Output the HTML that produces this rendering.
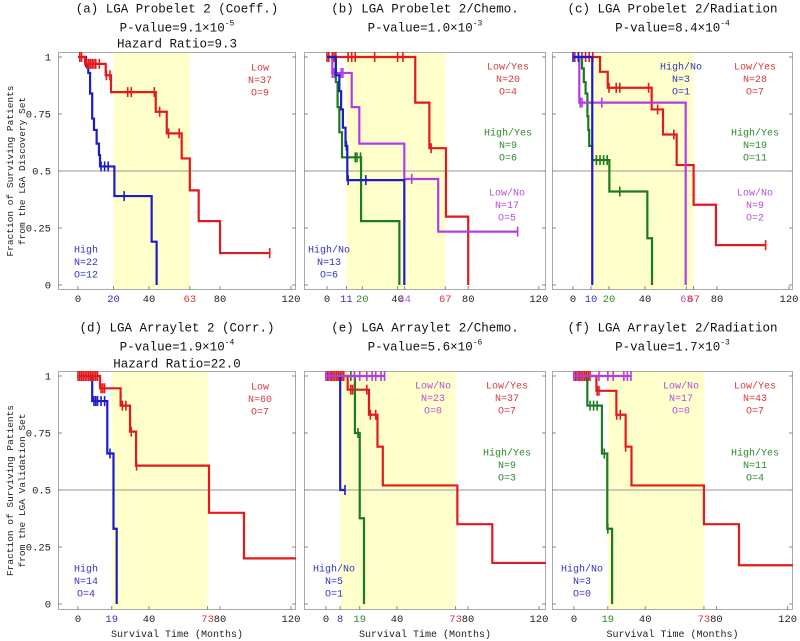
<!DOCTYPE html>
<html><head><meta charset="utf-8">
<style>
html,body{margin:0;padding:0;background:#fff;}
svg{display:block;font-family:"Liberation Mono","DejaVu Sans Mono",monospace;}
</style></head>
<body>
<svg id="chart" width="800" height="641" viewBox="0 0 800 641" xmlns="http://www.w3.org/2000/svg"></svg>
<script>
// ---------- data (months, survival fraction, censor times) ----------
// Panel a
const a_low_t=[4,15.6,18.6,43.8,50,58.4,63,68,80];
const a_low_s=[0.97,0.92,0.846,0.76,0.665,0.555,0.415,0.28,0.14];
const a_low_c=[1,2,5,6,7,8,9,10,12,16,18,28,30,43,46,51,57,108];
const a_high_t=[4.5,5.8,6.8,8,9,10.5,11.8,12.4,20.5,41.5,44.3];
const a_high_s=[0.96,0.93,0.84,0.73,0.68,0.62,0.57,0.52,0.39,0.19,0];
const a_high_c=[13,15,17,26];
// Panel b
const b_lowyes_t=[50,58,67.4,80];
const b_lowyes_s=[0.80,0.60,0.30,0];
const b_lowyes_c=[0,1,3,4,5,12,14,16,27,40,43,59];
const b_lowno_t=[3,14,18.3,43.8,63];
const b_lowno_s=[0.93,0.78,0.62,0.465,0.234];
const b_lowno_c=[3,4,8,9,48,108];
const b_highyes_t=[5,6,7,8.5,19.3,41];
const b_highyes_s=[0.89,0.78,0.67,0.56,0.28,0];
const b_highyes_c=[16,17,19];
const b_highno_t=[5,7,8,9,10.5,11.5,43.8];
const b_highno_s=[0.92,0.85,0.77,0.69,0.61,0.46,0];
const b_highno_c=[11,12,22];
// Panel c
const c_lowyes_t=[15,19.3,43.7,50,57.6,67,79.4];
const c_lowyes_s=[0.935,0.865,0.77,0.66,0.526,0.352,0.175];
const c_lowyes_c=[1,3,5,7,9,11,20,24,26,42,47,56,107];
const c_lowno_t=[3.5,62.6];
const c_lowno_s=[0.80,0];
const c_lowno_c=[4,5,16];
const c_highno_t=[10.7];
const c_highno_s=[0];
const c_highno_c=[0,3];
const c_highyes_t=[5,6,7,8,8.5,9,10.7,20.2,41.3,43.9];
const c_highyes_s=[0.95,0.89,0.84,0.74,0.68,0.61,0.548,0.41,0.205,0];
const c_highyes_c=[13,15,17,19,26];
// Panel d
const d_low_t=[12.4,24,29.3,32.7,73.8,93.5];
const d_low_s=[0.946,0.87,0.756,0.607,0.40,0.20];
const d_low_c=[0,1,2,3,4,5,6,7,8,9,10,11,13,14,15,25,27,30,33];
const d_high_t=[8,16.5,20,21.8];
const d_high_s=[0.89,0.66,0.33,0];
const d_high_c=[9,10,11,13,15,18];
// Panel e
const e_lowyes_t=[12.2,24.2,29,32,74,93.7];
const e_lowyes_s=[0.94,0.83,0.69,0.52,0.35,0.18];
const e_lowyes_c=[0,1,2,3,4,5,6,7,8,9,10,14,15,23,25,28];
const e_lowno_t=[];
const e_lowno_s=[];
const e_lowno_c=[0,2,16,19,23,26,28,31,33];
const e_highno_t=[8];
const e_highno_s=[0.5];
const e_highno_c=[10.7];
const e_highyes_t=[16.3,19,21.4];
const e_highyes_s=[0.75,0.376,0];
const e_highyes_c=[14,18];
// Panel f
const f_lowyes_t=[12.6,23.8,29,32.3,73,92.7];
const f_lowyes_s=[0.935,0.83,0.69,0.52,0.35,0.17];
const f_lowyes_c=[0,1,2,3,4,5,6,7,8,9,13,14,24,26,29];
const f_lowno_t=[];
const f_lowno_s=[];
const f_lowno_c=[0,2,14,19,22,28,30,32];
const f_highyes_t=[7.5,15.7,18.7,21.4];
const f_highyes_s=[0.87,0.66,0.33,0];
const f_highyes_c=[9,11,13,17,19];

const yTicks=[0,0.25,0.5,0.75,1];
const yTickLabels=["0","0.25","0.5","0.75","1"];

const RED="#e31a1c",BLUE="#1c1cc8",GREEN="#1f7a1f",PURPLE="#b43ce6";
const TRED="#d23c3c",TBLUE="#3434c0",TGREEN="#2e8a2e",TPURPLE="#b450dc";

const NS="http://www.w3.org/2000/svg";
const svg=document.getElementById('chart');
function mk(tag,attrs,parent){const e=document.createElementNS(NS,tag);for(const k in attrs)e.setAttribute(k,attrs[k]);(parent||svg).appendChild(e);return e;}

const panels=[
 {id:'a',fx:58,fw:238,fy:52,fh:238,x0:78,k:1.775,y0:285,y1:57,hl:[20,63],
  title:["(a) LGA Probelet 2 (Coeff.)","P-value=9.1×10","Hazard Ratio=9.3"],exp:"-5",ty:[8,27,43],
  xt:[[0,"#222"],[20,TBLUE],[40,"#222"],[63,TRED],[80,"#222"],[120,"#222"]],
  series:[{n:'high',t:a_high_t,s:a_high_s,c:a_high_c,col:BLUE},{n:'low',t:a_low_t,s:a_low_s,c:a_low_c,col:RED}],
  labels:[[260,67,"Low","N=37","O=9",TRED],[86,249,"High","N=22","O=12",TBLUE]],ylab:true},
 {id:'b',fx:304,fw:242,fy:52,fh:238,x0:327,k:1.765,y0:285,y1:57,hl:[11,67],
  title:["(b) LGA Probelet 2/Chemo.","P-value=1.0×10"],exp:"-3",ty:[8,27],
  xt:[[0,"#222"],[11,TBLUE],[20,TGREEN],[40,"#222"],[44,TPURPLE],[67,TRED],[80,"#222"],[120,"#222"]],
  series:[{n:'low-yes',t:b_lowyes_t,s:b_lowyes_s,c:b_lowyes_c,col:RED},{n:'low-no',t:b_lowno_t,s:b_lowno_s,c:b_lowno_c,col:PURPLE},{n:'high-yes',t:b_highyes_t,s:b_highyes_s,c:b_highyes_c,col:GREEN},{n:'high-no',t:b_highno_t,s:b_highno_s,c:b_highno_c,col:BLUE}],
  labels:[[508,66,"Low/Yes","N=20","O=4",TRED],[508,132,"High/Yes","N=9","O=6",TGREEN],[507,192,"Low/No","N=17","O=5",TPURPLE],[329,249,"High/No","N=13","O=6",TBLUE]]},
 {id:'c',fx:552,fw:241,fy:52,fh:238,x0:573,k:1.8,y0:285,y1:57,hl:[10,67],
  title:["(c) LGA Probelet 2/Radiation","P-value=8.4×10"],exp:"-4",ty:[8,27],
  xt:[[0,"#222"],[10,TBLUE],[20,TGREEN],[40,"#222"],[63,TPURPLE],[67,TRED],[80,"#222"],[120,"#222"]],
  series:[{n:'low-yes',t:c_lowyes_t,s:c_lowyes_s,c:c_lowyes_c,col:RED},{n:'high-yes',t:c_highyes_t,s:c_highyes_s,c:c_highyes_c,col:GREEN},{n:'low-no',t:c_lowno_t,s:c_lowno_s,c:c_lowno_c,col:PURPLE},{n:'high-no',t:c_highno_t,s:c_highno_s,c:c_highno_c,col:BLUE}],
  labels:[[681,66,"High/No","N=3","O=1",TBLUE],[755,66,"Low/Yes","N=28","O=7",TRED],[755,132,"High/Yes","N=19","O=11",TGREEN],[755,192,"Low/No","N=9","O=2",TPURPLE]]},
 {id:'d',fx:58,fw:238,fy:371,fh:239,x0:78,k:1.775,y0:604,y1:376,hl:[19,73],
  title:["(d) LGA Arraylet 2 (Corr.)","P-value=1.9×10","Hazard Ratio=22.0"],exp:"-4",ty:[327,346,363],
  xt:[[0,"#222"],[19,TBLUE],[40,"#222"],[73,TRED],[80,"#222"],[120,"#222"]],
  series:[{n:'high',t:d_high_t,s:d_high_s,c:d_high_c,col:BLUE},{n:'low',t:d_low_t,s:d_low_s,c:d_low_c,col:RED,end:130}],
  labels:[[260,386,"Low","N=60","O=7",TRED],[86,568,"High","N=14","O=4",TBLUE]],ylab:true,xlab:true},
 {id:'e',fx:304,fw:242,fy:371,fh:239,x0:326,k:1.775,y0:604,y1:376,hl:[8,73],
  title:["(e) LGA Arraylet 2/Chemo.","P-value=5.6×10"],exp:"-6",ty:[327,346],
  xt:[[0,"#222"],[8,TBLUE],[19,TGREEN],[40,"#222"],[73,TRED],[80,"#222"],[120,"#222"]],
  series:[{n:'low-yes',t:e_lowyes_t,s:e_lowyes_s,c:e_lowyes_c,col:RED,end:130},{n:'high-no',t:e_highno_t,s:e_highno_s,c:e_highno_c,col:BLUE},{n:'high-yes',t:e_highyes_t,s:e_highyes_s,c:e_highyes_c,col:GREEN},{n:'low-no',t:e_lowno_t,s:e_lowno_s,c:e_lowno_c,col:PURPLE}],
  labels:[[433,385,"Low/No","N=23","O=0",TPURPLE],[507,385,"Low/Yes","N=37","O=7",TRED],[507,452,"High/Yes","N=9","O=3",TGREEN],[334,568,"High/No","N=5","O=1",TBLUE]],xlab:true},
 {id:'f',fx:552,fw:241,fy:371,fh:239,x0:574,k:1.78,y0:604,y1:376,hl:[19,73],
  title:["(f) LGA Arraylet 2/Radiation","P-value=1.7×10"],exp:"-3",ty:[327,346],
  xt:[[0,"#222"],[19,TGREEN],[40,"#222"],[73,TRED],[80,"#222"],[120,"#222"]],
  series:[{n:'low-yes',t:f_lowyes_t,s:f_lowyes_s,c:f_lowyes_c,col:RED,end:130},{n:'high-yes',t:f_highyes_t,s:f_highyes_s,c:f_highyes_c,col:GREEN},{n:'low-no',t:f_lowno_t,s:f_lowno_s,c:f_lowno_c,col:PURPLE}],
  labels:[[681,385,"Low/No","N=17","O=0",TPURPLE],[755,385,"Low/Yes","N=43","O=7",TRED],[755,452,"High/Yes","N=11","O=4",TGREEN],[582,568,"High/No","N=3","O=0",TBLUE]],xlab:true}
];

panels.forEach(p=>{
  const X=t=>p.x0+t*p.k;
  const Y=s=>p.y0-s*(p.y0-p.y1);
  const g=mk('g',{});
  
  
  const cid='clip'+p.id;
  const cp=mk('clipPath',{id:cid},g);
  mk('rect',{x:p.fx,y:p.fy,width:p.fw,height:p.fh},cp);
  const hl=mk('rect',{x:X(p.hl[0]),y:p.fy,width:X(p.hl[1])-X(p.hl[0]),height:p.fh,fill:'#ffffcc'},g);
  
  
  const ml=mk('line',{x1:p.fx,x2:p.fx+p.fw,y1:Y(0.5),y2:Y(0.5),stroke:'#999','stroke-width':1},g);
  
  
  const fr=mk('rect',{x:p.fx+0.5,y:p.fy+0.5,width:p.fw-1,height:p.fh-1,fill:'none',stroke:'#aaa','stroke-width':1},g);
  
  
  yTicks.forEach((v,i)=>{
    mk('line',{x1:p.fx,x2:p.fx+4,y1:Y(v),y2:Y(v),stroke:'#888','stroke-width':1},g);
    mk('line',{x1:p.fx+p.fw-4,x2:p.fx+p.fw,y1:Y(v),y2:Y(v),stroke:'#888','stroke-width':1},g);
    if(p.ylab){
      const tl=mk('text',{x:p.fx-7,y:Y(v)+3.5,'text-anchor':'end','font-size':'10.5',fill:'#222'},g);
      tl.textContent=yTickLabels[i];
      
      
    }
  });
  p.xt.forEach(([v,col])=>{
    mk('line',{x1:X(v),x2:X(v),y1:p.fy+p.fh,y2:p.fy+p.fh-4,stroke:'#888','stroke-width':1},g);
    const tl=mk('text',{x:X(v),y:p.fy+p.fh+12,'text-anchor':'middle','font-size':'10.5',fill:col},g);
    tl.textContent=String(v);
    
    
  });
  const sg=mk('g',{'clip-path':'url(#'+cid+')'},g);
  p.series.forEach(se=>{
    let d='M'+X(0)+','+Y(1);
    let cur=1;
    for(let i=0;i<se.t.length;i++){d+=' H'+X(se.t[i])+' V'+Y(se.s[i]);cur=se.s[i];}
    const lastStep=se.t.length?se.t[se.t.length-1]:0;
    const lastC=se.c.length?Math.max(...se.c):0;
    let end=se.end!==undefined?se.end:Math.max(lastStep,lastC);
    if(cur>0||se.end!==undefined) d+=' H'+X(end);
    const path=mk('path',{d:d,fill:'none',stroke:se.col,'stroke-width':2.2},sg);
    
    
    se.c.forEach(ct=>{
      let sv=1;
      for(let i=0;i<se.t.length;i++){if(se.t[i]<=ct)sv=se.s[i];}
      const cm=mk('line',{x1:X(ct),x2:X(ct),y1:Y(sv)-5,y2:Y(sv)+5,stroke:se.col,'stroke-width':1.6},sg);
      
      
    });
  });
  p.labels.forEach(l=>{
    const tg=mk('g',{},g);
    
    
    [l[2],l[3],l[4]].forEach((s,i)=>{
      const t=mk('text',{x:l[0],y:l[1]+i*12.6+3.5,'text-anchor':'middle','font-size':'10',fill:l[5]},tg);
      t.textContent=s;
    });
  });
  const cx=p.fx+p.fw/2;
  p.title.forEach((s,i)=>{
    const t=mk('text',{x:cx,y:p.ty[i]+4.5,'text-anchor':'middle','font-size':'12.5',fill:'#111'},g);
    
    
    if(i==1){
      t.textContent=s;
      const ts=mk('tspan',{dy:'-6','font-size':'8'},t);
      ts.textContent=p.exp;
    } else t.textContent=s;
  });
  if(p.ylab){
    const cy=p.fy+p.fh/2;
    const yl=mk('text',{transform:'translate(13,'+cy+') rotate(-90)','text-anchor':'middle','font-size':'9.5',fill:'#222'},g);
    
    
    const t1=mk('tspan',{x:0,y:0},yl);t1.textContent='Fraction of Surviving Patients';
    const t2=mk('tspan',{x:0,y:12},yl);t2.textContent=p.id=='a'?'from the LGA Discovery Set':'from the LGA Validation Set';
  }
  if(p.xlab){
    const xl=mk('text',{x:p.fx+p.fw/2,y:637,'text-anchor':'middle','font-size':'10',fill:'#222'},g);
    xl.textContent='Survival Time (Months)';
    
    
  }
});
</script>
</body></html>
